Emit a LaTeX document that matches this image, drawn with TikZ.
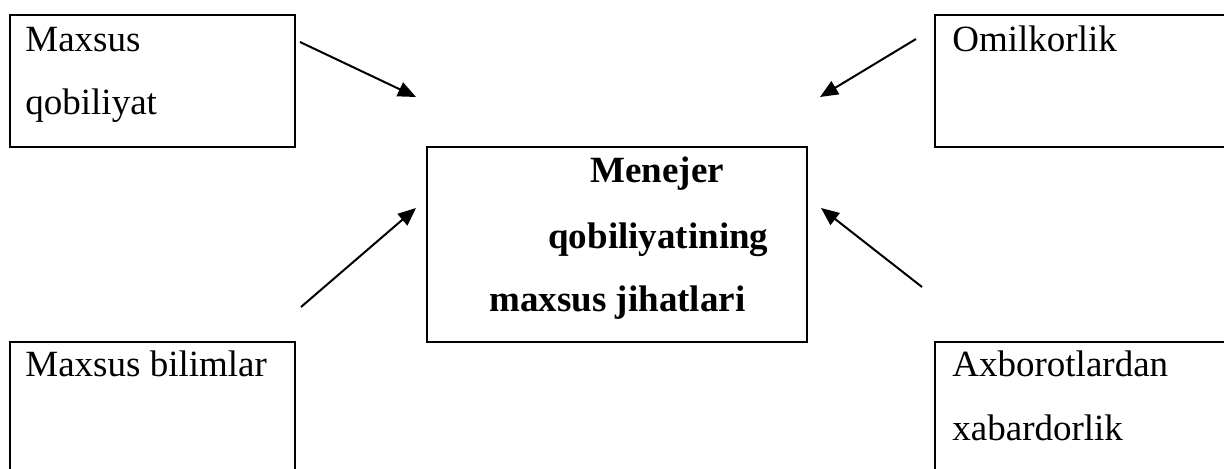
\documentclass[tikz,border=0pt]{standalone}
\usepackage{fontspec}
\setmainfont{Liberation Serif}
\usetikzlibrary{arrows.meta}
\begin{document}
\begin{tikzpicture}[x=0.5pt,y=-0.5pt,
  box/.style={draw=black,line width=1.2pt,inner sep=0pt,outer sep=0pt,anchor=north west},
  lbl/.style={anchor=base west,inner sep=0pt,font=\fontsize{18.5}{31.5}\selectfont},
  blbl/.style={anchor=base west,inner sep=0pt,font=\fontsize{18.5}{31.5}\selectfont\bfseries},
  arr/.style={line width=1pt,-{Triangle[length=9pt,width=7.5pt]}}]
\useasboundingbox[clip] (0,0) rectangle (1224,469);
\fill[white] (0,0) rectangle (1224,469);
% boxes (sizes in pt: 1px = 0.5pt)
\node[box,minimum width=142.5pt,minimum height=66pt] (tl) at (10,15) {};
\node[box,minimum width=162.5pt,minimum height=66pt] (tr) at (935,15) {};
\node[box,minimum width=190pt,minimum height=97.5pt] (ctr) at (427,147) {};
\node[box,minimum width=142.5pt,minimum height=90pt] (bl) at (10,342) {};
\node[box,minimum width=162.5pt,minimum height=90pt] (br) at (935,342) {};
% texts
\node[lbl] (t1a) at (25,52) {Maxsus};
\node[lbl] (t1b) at (25,115) {qobiliyat};
\node[lbl] (t2) at (952,52) {Omilkorlik};
\node[lbl] (t3) at (25,377) {Maxsus bilimlar};
\node[lbl] (t4a) at (952,377) {Axborotlardan};
\node[lbl] (t4b) at (952,440) {xabardorlik};
\node[blbl] (c1) at (590,183) {Menejer};
\node[blbl] (c2) at (548,249) {qobiliyatining};
\node[blbl] (c3) at (489,312) {maxsus jihatlari};
% arrow end points
\coordinate (a1s) at (300,42);  \coordinate (a1e) at (416,97);
\coordinate (a2s) at (916,39);  \coordinate (a2e) at (820,97);
\coordinate (a3s) at (301,307); \coordinate (a3e) at (416,208);
\coordinate (a4s) at (922,287); \coordinate (a4e) at (821,208);
\draw[arr] (a1s) -- (a1e);
\draw[arr] (a2s) -- (a2e);
\draw[arr] (a3s) -- (a3e);
\draw[arr] (a4s) -- (a4e);
\end{tikzpicture}
\end{document}
